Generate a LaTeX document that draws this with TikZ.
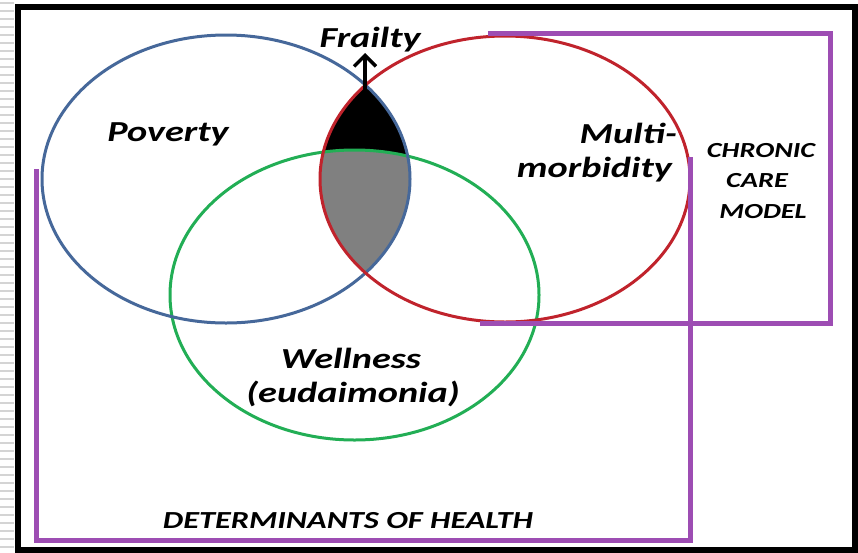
\documentclass[tikz,border=0pt]{standalone}
\usepackage{fontspec}
\usetikzlibrary{arrows.meta}
\newfontfamily\vennfont[FakeStretch=1.32]{Carlito}

\tikzset{
  ring/.style={line width=3pt},
  boxline/.style={purpleVEN, line width=5pt},
  lbl/.style={font=\vennfont\bfseries\itshape\fontsize{29}{31}\selectfont, inner sep=0pt},
  caps/.style={font=\vennfont\bfseries\itshape\fontsize{24.5}{26}\selectfont, inner sep=0pt},
  capsmall/.style={font=\vennfont\bfseries\itshape\fontsize{21.5}{23}\selectfont, inner sep=0pt}
}

\begin{document}
\begin{tikzpicture}[x=1pt, y=-1pt]

\definecolor{blueVEN}{HTML}{46689a}
\definecolor{redVEN}{HTML}{c0232c}
\definecolor{greenVEN}{HTML}{22ae55}
\definecolor{purpleVEN}{HTML}{9d4db3}
\definecolor{greyVEN}{HTML}{808080}
\definecolor{stripeVEN}{HTML}{d4d4d4}

\useasboundingbox (0,0) rectangle (858,552);

% slide edge
\foreach \y in {2,10,...,546} {
 \fill[stripeVEN] (0,\y) rectangle (14,\y+2);
}
\draw[black, line width=6pt] (17.5,6.5) rectangle (855,549.5);

% overlap of poverty and multimorbidity
\begin{scope}
 \clip (226,179) ellipse [x radius=184, y radius=144];
 \clip (505,179) ellipse [x radius=185, y radius=143];
 \fill[black] (300,60) rectangle (430,300);
 \fill[greyVEN] (354.5,295) ellipse [x radius=184.5, y radius=145];
\end{scope}

% sets
\draw[ring, greenVEN] (354.5,295) ellipse [x radius=184.5, y radius=145];
\draw[ring, blueVEN] (226,179) ellipse [x radius=184, y radius=144];
\draw[ring, redVEN] (505,179) ellipse [x radius=185, y radius=143];

% frames
\draw[boxline] (36,169) -- (36,540) -- (690,540) -- (690,157);
\draw[boxline] (488,33) -- (830,33) -- (830,323) -- (480,323);

% labels
\node[lbl, anchor=base] (frailty) at (370,47) {Frailty};
\node[lbl, anchor=base] (poverty) at (168,141) {Poverty};
\node[lbl, anchor=base east] (multi) at (677,143) {Multi-};
\node[lbl, anchor=base east] (morbidity) at (672,177) {morbidity};
\node[lbl, anchor=base] (wellness) at (351,368) {Wellness};
\node[lbl, anchor=base] (eudaimonia) at (353,402) {(eudaimonia)};
\node[caps, anchor=base] (determinants) at (348,528) {DETERMINANTS OF HEALTH};
\node[capsmall, anchor=base] (chronic) at (761,157) {CHRONIC};
\node[capsmall, anchor=base] (care) at (757,187) {CARE};
\node[capsmall, anchor=base] (model) at (763,218) {MODEL};

% arrow to frailty
\coordinate (apex) at (365,94);
\coordinate (tip) at (365,53);
\draw[line width=3.5pt, -{Straight Barb[length=11pt, width=22pt]}] (apex) -- (tip);

\end{tikzpicture}
\end{document}
